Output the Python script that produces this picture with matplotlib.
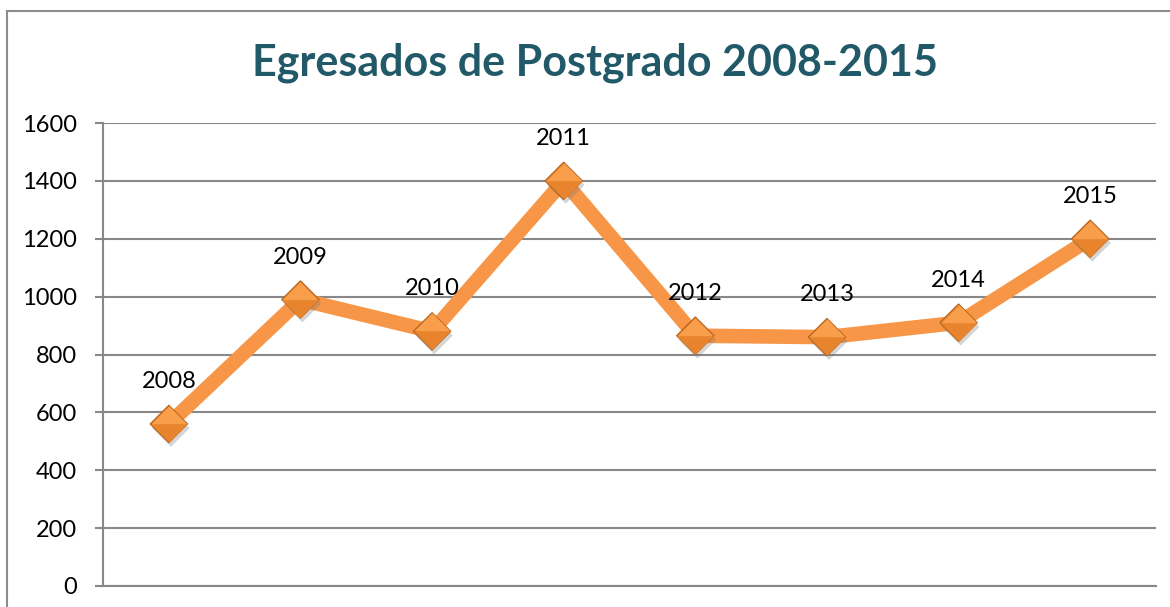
import matplotlib
matplotlib.use("Agg")
import matplotlib.pyplot as plt
import matplotlib.patheffects as pe
from matplotlib.patches import Rectangle
from matplotlib.path import Path

# data
years = ["2008", "2009", "2010", "2011", "2012", "2013", "2014", "2015"]
graduates = [560, 990, 880, 1400, 865, 860, 910, 1200]
yticks = [0, 200, 400, 600, 800, 1000, 1200, 1400, 1600]

title = "Egresados de Postgrado 2008-2015"
title_color = "#215968"
orange = "#F79646"
grid_gray = "#888888"

plt.rcParams['font.family'] = ['Lato', 'DejaVu Sans']

fig = plt.figure(figsize=(11.7, 6.07), dpi=100)
ax = fig.add_axes([103 / 1170, 21 / 607, 1053 / 1170, 463 / 607])

# outer chart frame (cut off at right and bottom)
fig.patches.append(Rectangle((7 / 1170, -0.2), 1.2, 1.2 - 11 / 607,
                             transform=fig.transFigure, fill=False,
                             edgecolor="#8c8c8c", linewidth=1.5, zorder=0))

# diamond marker split in two halves (light top, darker bottom)
upper = Path([(-1, 0), (0, 1), (1, 0), (-1, 0)], closed=True)
lower = Path([(-1, 0), (0, -1), (1, 0), (-1, 0)], closed=True)
full = Path([(-1, 0), (0, 1), (1, 0), (0, -1), (-1, 0)], closed=True)
msize = 27

x = list(range(len(years)))
ax.plot(x, graduates, color=orange, linewidth=10.5, solid_capstyle="butt",
        solid_joinstyle="miter", zorder=3)
ax.plot(x, graduates, linestyle="none", marker=full, markersize=msize,
        markerfacecolor="#E8832C", markeredgecolor="#B5621C", markeredgewidth=0.8,
        zorder=4,
        path_effects=[pe.SimplePatchShadow(offset=(1.5, -3), shadow_rgbFace="#777777", alpha=0.3),
                      pe.Normal()])
ax.plot(x, graduates, linestyle="none", marker=upper, markersize=msize - 1,
        markerfacecolor="#F99E4B", markeredgewidth=0, zorder=5)
ax.plot(x, graduates, linestyle="none", marker=lower, markersize=msize - 1,
        markerfacecolor="#E8842D", markeredgewidth=0, zorder=5)

for xi, yi, lab in zip(x, graduates, years):
    ax.annotate(lab, (xi, yi), xytext=(0, 23), textcoords="offset points",
                ha="center", va="bottom", fontsize=17, color="black", zorder=6)

ax.set_xlim(-0.5, len(years) - 0.5)
ax.set_ylim(0, 1600)
ax.set_yticks(yticks)
ax.set_yticklabels([str(v) for v in yticks], fontsize=17)
ax.set_xticks([])
ax.yaxis.grid(True, color=grid_gray, linewidth=1.5)
ax.set_axisbelow(True)
ax.tick_params(axis="y", length=6, width=1.5, color=grid_gray, pad=13)
for side in ["top", "right"]:
    ax.spines[side].set_visible(False)
for side in ["left", "bottom"]:
    ax.spines[side].set_color(grid_gray)
    ax.spines[side].set_linewidth(1.5)

fig.text(595 / 1170, 1 - 63 / 607, title, ha="center", va="center",
         fontsize=31, fontweight="bold", color=title_color)

fig.savefig("out.png", dpi=100, facecolor="white")
